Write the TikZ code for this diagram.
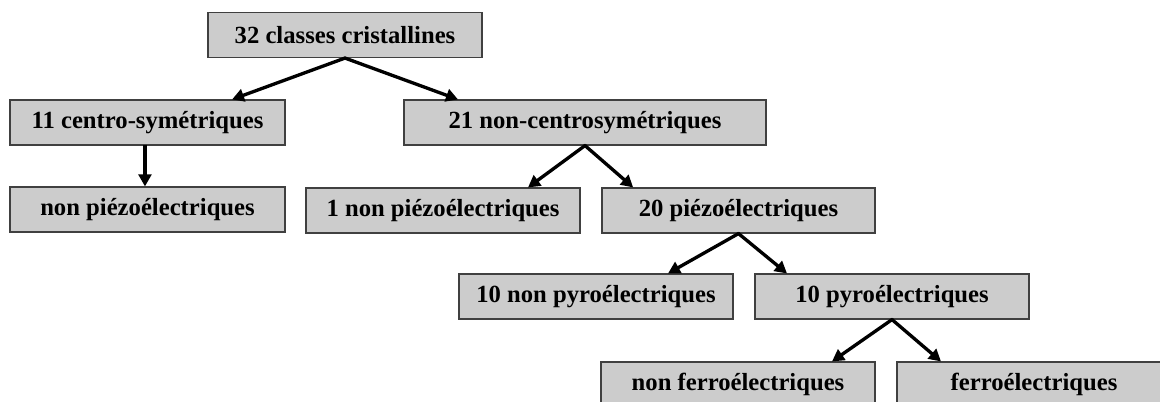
\documentclass[tikz,border=0pt]{standalone}
\usepackage{fontspec}
\setmainfont{Liberation Serif}
\usetikzlibrary{arrows.meta}
\definecolor{boxfill}{HTML}{CCCCCC}
\definecolor{boxline}{HTML}{404040}
\tikzset{
  cbox/.style={draw=boxline, line width=1.1pt, fill=boxfill, rectangle,
    minimum height=33.5pt, inner sep=0pt, font=\bfseries\fontsize{18.5}{22}\selectfont},
  arr/.style={line width=2.5pt, -{Triangle[length=9pt,width=9.5pt]}, shorten <=-0.5pt}
}
\begin{document}
\begin{tikzpicture}[x=0.75pt,y=-0.75pt]
\useasboundingbox (0,0) rectangle (1160,401);
\clip (0,0) rectangle (1160,401);
\node[cbox, minimum width=205.5pt] (top) at (345,35) {32 classes cristallines};
\node[cbox, minimum width=206.25pt] (c11) at (147.5,122.5) {11 centro-symétriques};
\node[cbox, minimum width=206.25pt] (np) at (147.5,209.5) {non piézoélectriques};
\node[cbox, minimum width=271.5pt] (c21) at (585,122.5) {21 non-centrosymétriques};
\node[cbox, minimum width=205.5pt] (np1) at (443,210.5) {1 non piézoélectriques};
\node[cbox, minimum width=204.75pt] (p20) at (738.5,210.5) {20 piézoélectriques};
\node[cbox, minimum width=205.5pt] (np10) at (596,296.5) {10 non pyroélectriques};
\node[cbox, minimum width=205.5pt] (p10) at (892,296.5) {10 pyroélectriques};
\node[cbox, minimum width=205.5pt] (nf) at (738,384.5) {non ferroélectriques};
\node[cbox, minimum width=205.5pt] (f) at (1034,384.5) {ferroélectriques};
\draw[arr] (top.south) -- ([xshift=63.4pt]c11.north);
\draw[arr] (top.south) -- ([xshift=-95.25pt]c21.north);
\draw[arr] ([xshift=-1.9pt]c11.south) -- ([xshift=-1.9pt]np.north);
\draw[arr] (c21.south) -- ([xshift=63.75pt]np1.north);
\draw[arr] (c21.south) -- ([xshift=-79pt]p20.north);
\draw[arr] (p20.south) -- ([xshift=54pt]np10.north);
\draw[arr] (p20.south) -- ([xshift=-78.75pt]p10.north);
\draw[arr] (p10.south) -- ([xshift=70.5pt]nf.north);
\draw[arr] (p10.south) -- ([xshift=-69.75pt]f.north);
\end{tikzpicture}
\end{document}
